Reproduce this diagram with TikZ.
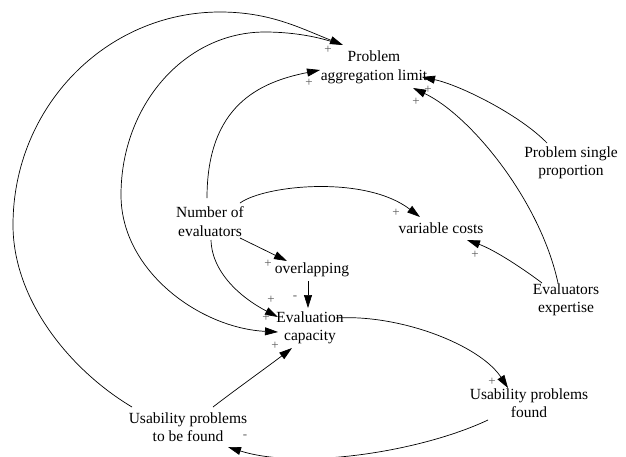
\documentclass[tikz,border=0pt]{standalone}
\usepackage{fontspec}
\setmainfont{Liberation Serif}
\usetikzlibrary{arrows.meta}
\begin{document}
\begin{tikzpicture}[x=1pt,y=-1pt,
  var/.style={align=center,inner sep=0pt,font=\fontsize{15.5}{18.5}\selectfont},
  link/.style={line width=0.7pt,-{Triangle[length=13pt,width=8pt]}},
  sgn/.style={text=black!65,font=\fontsize{13}{13}\selectfont,inner sep=0pt}]
\useasboundingbox (0,0) rectangle (626,456);

% variables
\node[var] (pal)  at (374,67.5)  {Problem\\aggregation limit};
\node[var] (psp)  at (571,163)   {Problem single\\proportion};
\node[var] (noe)  at (210,221.5) {Number of\\evaluators};
\node[var] (vc)   at (441,228)   {variable costs};
\node[var] (ov)   at (312,270)   {overlapping};
\node[var] (ec)   at (310,328)   {Evaluation\\capacity};
\node[var] (ee)   at (566,300)   {Evaluators\\expertise};
\node[var] (upf)  at (529,403)   {Usability problems\\found};
\node[var] (utbf) at (188,427)   {Usability problems\\to be found};

% outer loop: problems to be found -> aggregation limit
\draw[link] ([shift={(-56,-20)}]utbf.center)
  .. controls (70,370) and (13,300) .. (13,225)
  .. controls (13,107) and (106,12) .. (220,12)
  .. controls (270,12) and (300,28) .. ([shift={(-31,-22.5)}]pal.center);

% aggregation limit -> evaluation capacity
\draw[link] ([shift={(-34,-23)}]pal.center)
  .. controls (318,36) and (290,32) .. (265,32)
  .. controls (185,32) and (121,105) .. (121,195)
  .. controls (121,271) and (200,328) .. ([shift={(-32,4)}]ec.center);

% number of evaluators -> aggregation limit
\draw[link] ([shift={(-3,-23.5)}]noe.center)
  .. controls (207,105) and (260,82) .. ([shift={(-54,2.5)}]pal.center);

% number of evaluators -> evaluation capacity
\draw[link] ([shift={(1,18.5)}]noe.center)
  .. controls (212,275) and (245,300) .. ([shift={(-32,-11)}]ec.center);

% number of evaluators -> overlapping
\draw[link] ([shift={(30,16.5)}]noe.center) -- ([shift={(-25,-9)}]ov.center);

% overlapping -> evaluation capacity
\draw[link] ([shift={(-4,11)}]ov.center) -- ([shift={(-2,-20)}]ec.center);

% number of evaluators -> variable costs
\draw[link] ([shift={(30,-18.5)}]noe.center)
  .. controls (265,185) and (365,175) .. ([shift={(-21,-11)}]vc.center);

% expertise -> variable costs
\draw[link] ([shift={(-24,-17)}]ee.center)
  .. controls (525,270) and (495,250) .. ([shift={(26,12)}]vc.center);

% expertise -> aggregation limit
\draw[link] ([shift={(-8,-17)}]ee.center)
  .. controls (540,200) and (470,115) .. ([shift={(39,20.5)}]pal.center);

% single proportion -> aggregation limit
\draw[link] ([shift={(-24,-20)}]psp.center)
  .. controls (520,115) and (460,85) .. ([shift={(48,9.5)}]pal.center);

% evaluation capacity -> problems found
\draw[link] ([shift={(26,-10)}]ec.center)
  .. controls (400,314) and (480,345) .. ([shift={(-21,-15)}]upf.center);

% problems found -> problems to be found
\draw[link] ([shift={(-41,17)}]upf.center)
  .. controls (420,452) and (300,470) .. ([shift={(40,20)}]utbf.center);

% problems to be found -> evaluation capacity
\draw[link] ([shift={(25,-20)}]utbf.center)
  .. controls (235,390) and (270,365) .. ([shift={(-18,20)}]ec.center);

% polarities
\node[sgn] (p1)  at (328,50)  {+};
\node[sgn] (p2)  at (309,83)  {+};
\node[sgn] (p3)  at (428,90)  {+};
\node[sgn] (p4)  at (416,102) {+};
\node[sgn] (p5)  at (396,213) {+};
\node[sgn] (p6)  at (475,255) {+};
\node[sgn] (p7)  at (268,264) {+};
\node[sgn] (m1)  at (295,298) {-};
\node[sgn] (p8)  at (271,300) {+};
\node[sgn] (p9)  at (266,318) {+};
\node[sgn] (p10) at (275,346) {+};
\node[sgn] (p11) at (492,382) {+};
\node[sgn] (m2)  at (245,437) {-};
\end{tikzpicture}
\end{document}
